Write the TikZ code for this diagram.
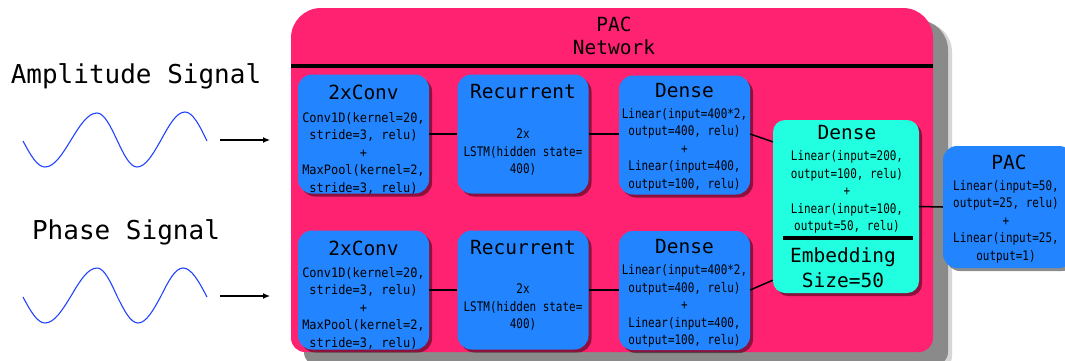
\documentclass[tikz,border=0pt]{standalone}
\usepackage{fontspec}
\setmonofont{DejaVu Sans Mono}
\newfontfamily\condmono[FakeStretch=0.83]{DejaVu Sans Mono}
\newfontfamily\convmono[FakeStretch=0.92]{DejaVu Sans Mono}
\usetikzlibrary{calc,arrows.meta,shadows}
\definecolor{pacpink}{RGB}{255,34,112}
\definecolor{pacblue}{RGB}{34,133,255}
\definecolor{paccyan}{RGB}{34,255,224}
\definecolor{wavecol}{RGB}{34,68,255}
\definecolor{shadowgray}{RGB}{138,138,138}
\begin{document}
\begin{tikzpicture}[x=1pt,y=-1pt,
  blockbox/.style={fill=pacblue, rounded corners=14pt, minimum width=131pt, minimum height=119pt, inner sep=0pt,
    drop shadow={shadow xshift=3pt, shadow yshift=-3pt, opacity=0.45, fill=black}},
  embbox/.style={fill=paccyan, rounded corners=12pt, minimum width=146pt, minimum height=173pt, inner sep=0pt,
    drop shadow={shadow xshift=3pt, shadow yshift=-3pt, opacity=0.45, fill=black}},
  titletext/.style={font=\fontsize{19.5}{22}\selectfont\ttfamily, inner sep=0pt},
  bigtext/.style={font=\fontsize{26}{30}\selectfont\ttfamily, inner sep=0pt},
  bodytext/.style={font=\fontsize{13.2}{17.5}\selectfont\condmono, align=center, inner sep=0pt},
  convtext/.style={font=\fontsize{13}{17.5}\selectfont\convmono, align=center, inner sep=0pt},
  link/.style={line width=1.5pt, black},
  sigarrow/.style={line width=1.2pt, -{Latex[length=7pt,width=6pt]}},
  signal/.style={wavecol, line width=1.1pt},
  thickbar/.style={line width=3.3pt, black}
]
\clip (0,0) rectangle (1065,360);
\fill[white] (0,0) rectangle (1065,360);

% left side: signals
\node[bigtext] (amp) at (136,76) {Amplitude Signal};
\node[bigtext] (phase) at (126,232) {Phase Signal};
\draw[signal] (23,141) sin (45,167) cos (71,140) sin (97,113) cos (117,140) sin (137,167) cos (161,140) sin (185,112) cos (207,141);
\draw[signal] (23,297) sin (45,323) cos (71,296) sin (97,268) cos (117,296) sin (138,323) cos (161,296) sin (183,268) cos (207,297);
\coordinate (a1s) at (220,140);
\coordinate (a1e) at (270,140);
\coordinate (a2s) at (220,296);
\coordinate (a2e) at (270,296);
\draw[sigarrow] (a1s) -- (a1e);
\draw[sigarrow] (a2s) -- (a2e);

% big PAC network panel with shadow
\fill[shadowgray, opacity=0.35] (306,200) [rounded corners=30pt] -- (306,22) -- (952,22) -- (952,120) [rounded corners=14pt] -- (952,370) -- (306,370) -- (306,200) -- cycle;
\fill[shadowgray] (304,200) [rounded corners=30pt] -- (304,20) -- (948,20) -- (948,120) [rounded corners=14pt] -- (948,366) -- (304,366) -- (304,200) -- cycle;
\fill[pacpink] (291,180) [rounded corners=30pt] -- (291,8) -- (933,8) -- (933,100) [rounded corners=14pt] -- (933,352) -- (291,352) -- (291,180) -- cycle;
\coordinate (hl) at (291,66);
\coordinate (hr) at (933,66);
\draw[thickbar] (hl) -- (hr);
\node[titletext] (hdr1) at (614,24) {PAC};
\node[titletext] (hdr2) at (614,47) {Network};

% blocks
\node[blockbox] (conv1) at (363.5,134) {};
\node[blockbox] (rec1) at (523,134) {};
\node[blockbox] (dense1) at (684.5,135) {};
\node[blockbox] (conv2) at (363.5,290) {};
\node[blockbox] (rec2) at (523,290) {};
\node[blockbox] (dense2) at (684.5,290.5) {};
\node[embbox] (emb) at (846,206.5) {};
\node[blockbox, minimum width=130pt, minimum height=122pt] (pac) at (1008,207) {};

% connectors
\draw[link] (conv1.east) -- (rec1.west);
\draw[link] (rec1.east) -- (dense1.west |- rec1.east);
\draw[link] (conv2.east) -- (rec2.west);
\draw[link] (rec2.east) -- (dense2.west |- rec2.east);
\draw[link] (dense1.east |- rec1.east) -- ($(emb.north west)!0.127!(emb.south west)$);
\draw[link] (dense2.east |- rec2.east) -- ($(emb.north west)!0.925!(emb.south west)$);
\draw[link] (emb.east) -- (pac.west);

% texts, top row
\node[titletext] (conv1t) at (363.5,92) {2xConv};
\node[convtext] (conv1b) at (363.5,153) {Conv1D(kernel=20,\\stride=3, relu)\\+\\MaxPool(kernel=2,\\stride=3, relu)};
\node[titletext] (rec1t) at (523,92) {Recurrent};
\node[bodytext] (rec1b) at (523,152) {2x\\LSTM(hidden state=\\400)};
\node[titletext] (dense1t) at (684.5,91) {Dense};
\node[bodytext] (dense1b) at (684.5,149.5) {Linear(input=400*2,\\output=400, relu)\\+\\Linear(input=400,\\output=100, relu)};

% texts, bottom row
\node[titletext] (conv2t) at (363.5,248) {2xConv};
\node[convtext] (conv2b) at (363.5,308) {Conv1D(kernel=20,\\stride=3, relu)\\+\\MaxPool(kernel=2,\\stride=3, relu)};
\node[titletext] (rec2t) at (523,248) {Recurrent};
\node[bodytext] (rec2b) at (523,307) {2x\\LSTM(hidden state=\\400)};
\node[titletext] (dense2t) at (684.5,247) {Dense};
\node[bodytext] (dense2b) at (684.5,306) {Linear(input=400*2,\\output=400, relu)\\+\\Linear(input=400,\\output=100, relu)};

% embedding block
\node[titletext] (embt) at (847,133) {Dense};
\node[bodytext] (embb) at (847,192) {Linear(input=200,\\output=100, relu)\\+\\Linear(input=100,\\output=50, relu)};
\coordinate (ebl) at (783,238);
\coordinate (ebr) at (913,238);
\draw[thickbar] (ebl) -- (ebr);
\node[titletext, align=center, font=\fontsize{19.5}{25}\selectfont\ttfamily] (embs) at (843,267.5) {Embedding\\Size=50};

% PAC output block
\node[titletext] (pact) at (1009,162) {PAC};
\node[bodytext] (pacb) at (1006,221.5) {Linear(input=50,\\output=25, relu)\\+\\Linear(input=25,\\output=1)};
\end{tikzpicture}
\end{document}
